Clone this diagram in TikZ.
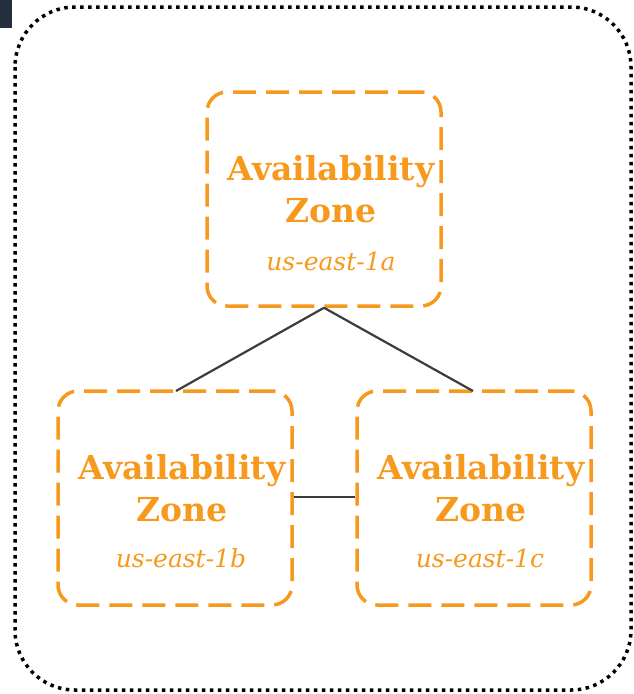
\documentclass[tikz,border=0pt]{standalone}
\usepackage{fontspec}
\setmainfont{DejaVu Serif}
\definecolor{awsorange}{HTML}{F7991C}
\definecolor{awsnavy}{HTML}{232F3E}
\definecolor{linegray}{HTML}{3C3C3C}
\begin{document}
\begin{tikzpicture}[x=1pt,y=-1pt,
  azbox/.style={draw=awsorange, line width=3.5pt, rounded corners=20pt,
    dash pattern=on 23pt off 10pt, minimum width=234pt, minimum height=214pt, inner sep=0pt},
  aztitle/.style={text=awsorange, font=\fontsize{33}{42}\selectfont\bfseries, align=center, inner sep=0pt},
  azsub/.style={text=awsorange, font=\fontsize{25}{30}\selectfont\itshape, inner sep=0pt},
  conn/.style={draw=linegray, line width=2.2pt}]
\useasboundingbox (0,0) rectangle (634,694);
\fill[awsnavy] (0,0) rectangle (12,28);
\draw[line width=3.5pt, dash pattern=on 3.5pt off 4.5pt, rounded corners=60pt]
  (15,7) rectangle (631,690);
% boxes
\node[azbox] (a) at (324,199) {};
\node[azbox] (b) at (175,498) {};
\node[azbox] (c) at (474,498) {};
% texts
\node[aztitle] (ta) at (331,189) {Availability\\Zone};
\node[azsub] (sa) at (331,261) {us-east-1a};
\node[aztitle] (tb) at (182,488) {Availability\\Zone};
\node[azsub] (sb) at (181,558) {us-east-1b};
\node[aztitle] (tc) at (481,488) {Availability\\Zone};
\node[azsub] (sc) at (480,558) {us-east-1c};
% connectors
\coordinate (ab) at (176,391);
\coordinate (ac) at (473,391);
\draw[conn] (a.south) -- (ab);
\draw[conn] (a.south) -- (ac);
\draw[conn] (b.east |- 0,497) -- (c.west |- 0,497);
\end{tikzpicture}
\end{document}
